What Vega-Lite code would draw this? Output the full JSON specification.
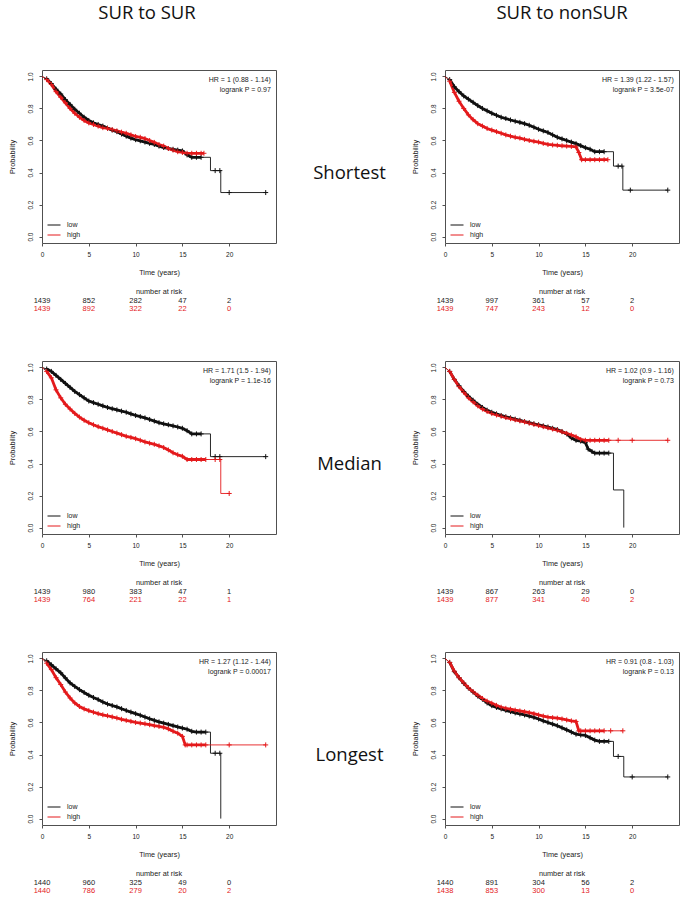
{
"$schema":"https://vega.github.io/schema/vega-lite/v6.json",
"background":"white",
"padding":{"left":8,"top":3,"right":5,"bottom":5},
"autosize":"pad",
"datasets":{
"km":[
{"p":1,"g":"low","t":0,"s":1,"c":0},{"p":1,"g":"low","t":0.5,"s":0.985,"c":1},{"p":1,"g":"low","t":1,"s":0.955,"c":1},{"p":1,"g":"low","t":1.5,"s":0.92,"c":1},{"p":1,"g":"low","t":2,"s":0.89,"c":1},{"p":1,"g":"low","t":2.5,"s":0.855,"c":1},{"p":1,"g":"low","t":3,"s":0.825,"c":1},{"p":1,"g":"low","t":3.5,"s":0.795,"c":1},{"p":1,"g":"low","t":4,"s":0.77,"c":1},{"p":1,"g":"low","t":4.5,"s":0.745,"c":1},{"p":1,"g":"low","t":5,"s":0.725,"c":1},{"p":1,"g":"low","t":5.5,"s":0.71,"c":1},{"p":1,"g":"low","t":6,"s":0.7,"c":1},{"p":1,"g":"low","t":6.5,"s":0.69,"c":1},{"p":1,"g":"low","t":7,"s":0.677,"c":1},{"p":1,"g":"low","t":7.5,"s":0.665,"c":1},{"p":1,"g":"low","t":8,"s":0.655,"c":1},{"p":1,"g":"low","t":8.5,"s":0.64,"c":1},{"p":1,"g":"low","t":9,"s":0.627,"c":1},{"p":1,"g":"low","t":9.5,"s":0.615,"c":1},{"p":1,"g":"low","t":10,"s":0.605,"c":1},{"p":1,"g":"low","t":10.5,"s":0.598,"c":1},{"p":1,"g":"low","t":11,"s":0.59,"c":1},{"p":1,"g":"low","t":11.5,"s":0.582,"c":1},{"p":1,"g":"low","t":12,"s":0.575,"c":1},{"p":1,"g":"low","t":12.5,"s":0.565,"c":1},{"p":1,"g":"low","t":13,"s":0.556,"c":1},{"p":1,"g":"low","t":13.5,"s":0.55,"c":1},{"p":1,"g":"low","t":14,"s":0.545,"c":1},{"p":1,"g":"low","t":14.5,"s":0.54,"c":1},{"p":1,"g":"low","t":15,"s":0.535,"c":1},{"p":1,"g":"low","t":15.5,"s":0.51,"c":1},{"p":1,"g":"low","t":16,"s":0.495,"c":1},{"p":1,"g":"low","t":16.5,"s":0.495,"c":1},{"p":1,"g":"low","t":17,"s":0.495,"c":1},{"p":1,"g":"low","t":18,"s":0.495,"c":0},{"p":1,"g":"low","t":18,"s":0.412,"c":0},{"p":1,"g":"low","t":18.5,"s":0.412,"c":2},{"p":1,"g":"low","t":19,"s":0.412,"c":2},{"p":1,"g":"low","t":19.1,"s":0.412,"c":0},{"p":1,"g":"low","t":19.1,"s":0.275,"c":0},{"p":1,"g":"low","t":20,"s":0.275,"c":2},{"p":1,"g":"low","t":23.9,"s":0.275,"c":2},
{"p":1,"g":"high","t":0,"s":1,"c":0},{"p":1,"g":"high","t":0.5,"s":0.98,"c":1},{"p":1,"g":"high","t":1,"s":0.95,"c":1},{"p":1,"g":"high","t":1.5,"s":0.905,"c":1},{"p":1,"g":"high","t":2,"s":0.87,"c":1},{"p":1,"g":"high","t":2.5,"s":0.835,"c":1},{"p":1,"g":"high","t":3,"s":0.8,"c":1},{"p":1,"g":"high","t":3.5,"s":0.77,"c":1},{"p":1,"g":"high","t":4,"s":0.745,"c":1},{"p":1,"g":"high","t":4.5,"s":0.725,"c":1},{"p":1,"g":"high","t":5,"s":0.71,"c":1},{"p":1,"g":"high","t":5.5,"s":0.7,"c":1},{"p":1,"g":"high","t":6,"s":0.69,"c":1},{"p":1,"g":"high","t":6.5,"s":0.68,"c":1},{"p":1,"g":"high","t":7,"s":0.675,"c":1},{"p":1,"g":"high","t":7.5,"s":0.668,"c":1},{"p":1,"g":"high","t":8,"s":0.66,"c":1},{"p":1,"g":"high","t":8.5,"s":0.652,"c":1},{"p":1,"g":"high","t":9,"s":0.645,"c":1},{"p":1,"g":"high","t":9.5,"s":0.635,"c":1},{"p":1,"g":"high","t":10,"s":0.625,"c":1},{"p":1,"g":"high","t":10.5,"s":0.62,"c":1},{"p":1,"g":"high","t":11,"s":0.612,"c":1},{"p":1,"g":"high","t":11.5,"s":0.6,"c":1},{"p":1,"g":"high","t":12,"s":0.588,"c":1},{"p":1,"g":"high","t":12.5,"s":0.575,"c":1},{"p":1,"g":"high","t":13,"s":0.565,"c":1},{"p":1,"g":"high","t":13.5,"s":0.55,"c":1},{"p":1,"g":"high","t":14,"s":0.54,"c":1},{"p":1,"g":"high","t":14.5,"s":0.53,"c":1},{"p":1,"g":"high","t":15,"s":0.525,"c":1},{"p":1,"g":"high","t":15.5,"s":0.52,"c":1},{"p":1,"g":"high","t":16,"s":0.52,"c":1},{"p":1,"g":"high","t":16.5,"s":0.52,"c":1},{"p":1,"g":"high","t":17,"s":0.52,"c":1},{"p":1,"g":"high","t":17.3,"s":0.52,"c":1},
{"p":2,"g":"low","t":0,"s":1,"c":0},{"p":2,"g":"low","t":0.5,"s":0.98,"c":1},{"p":2,"g":"low","t":1,"s":0.935,"c":1},{"p":2,"g":"low","t":1.5,"s":0.905,"c":1},{"p":2,"g":"low","t":2,"s":0.878,"c":1},{"p":2,"g":"low","t":2.5,"s":0.858,"c":1},{"p":2,"g":"low","t":3,"s":0.838,"c":1},{"p":2,"g":"low","t":3.5,"s":0.818,"c":1},{"p":2,"g":"low","t":4,"s":0.8,"c":1},{"p":2,"g":"low","t":4.5,"s":0.785,"c":1},{"p":2,"g":"low","t":5,"s":0.77,"c":1},{"p":2,"g":"low","t":5.5,"s":0.757,"c":1},{"p":2,"g":"low","t":6,"s":0.745,"c":1},{"p":2,"g":"low","t":6.5,"s":0.737,"c":1},{"p":2,"g":"low","t":7,"s":0.728,"c":1},{"p":2,"g":"low","t":7.5,"s":0.72,"c":1},{"p":2,"g":"low","t":8,"s":0.713,"c":1},{"p":2,"g":"low","t":8.5,"s":0.705,"c":1},{"p":2,"g":"low","t":9,"s":0.695,"c":1},{"p":2,"g":"low","t":9.5,"s":0.683,"c":1},{"p":2,"g":"low","t":10,"s":0.67,"c":1},{"p":2,"g":"low","t":10.5,"s":0.66,"c":1},{"p":2,"g":"low","t":11,"s":0.65,"c":1},{"p":2,"g":"low","t":11.5,"s":0.635,"c":1},{"p":2,"g":"low","t":12,"s":0.62,"c":1},{"p":2,"g":"low","t":12.5,"s":0.61,"c":1},{"p":2,"g":"low","t":13,"s":0.6,"c":1},{"p":2,"g":"low","t":13.5,"s":0.59,"c":1},{"p":2,"g":"low","t":14,"s":0.58,"c":1},{"p":2,"g":"low","t":14.5,"s":0.568,"c":1},{"p":2,"g":"low","t":15,"s":0.555,"c":1},{"p":2,"g":"low","t":15.5,"s":0.545,"c":1},{"p":2,"g":"low","t":16,"s":0.53,"c":1},{"p":2,"g":"low","t":16.5,"s":0.53,"c":1},{"p":2,"g":"low","t":17,"s":0.53,"c":1},{"p":2,"g":"low","t":18,"s":0.53,"c":0},{"p":2,"g":"low","t":18,"s":0.44,"c":0},{"p":2,"g":"low","t":18.5,"s":0.44,"c":2},{"p":2,"g":"low","t":18.9,"s":0.44,"c":2},{"p":2,"g":"low","t":19,"s":0.44,"c":0},{"p":2,"g":"low","t":19,"s":0.29,"c":0},{"p":2,"g":"low","t":19.8,"s":0.29,"c":2},{"p":2,"g":"low","t":23.8,"s":0.29,"c":2},
{"p":2,"g":"high","t":0,"s":1,"c":0},{"p":2,"g":"high","t":0.5,"s":0.97,"c":1},{"p":2,"g":"high","t":1,"s":0.9,"c":1},{"p":2,"g":"high","t":1.5,"s":0.845,"c":1},{"p":2,"g":"high","t":2,"s":0.8,"c":1},{"p":2,"g":"high","t":2.5,"s":0.76,"c":1},{"p":2,"g":"high","t":3,"s":0.73,"c":1},{"p":2,"g":"high","t":3.5,"s":0.705,"c":1},{"p":2,"g":"high","t":4,"s":0.69,"c":1},{"p":2,"g":"high","t":4.5,"s":0.675,"c":1},{"p":2,"g":"high","t":5,"s":0.665,"c":1},{"p":2,"g":"high","t":5.5,"s":0.655,"c":1},{"p":2,"g":"high","t":6,"s":0.645,"c":1},{"p":2,"g":"high","t":6.5,"s":0.635,"c":1},{"p":2,"g":"high","t":7,"s":0.627,"c":1},{"p":2,"g":"high","t":7.5,"s":0.62,"c":1},{"p":2,"g":"high","t":8,"s":0.615,"c":1},{"p":2,"g":"high","t":8.5,"s":0.607,"c":1},{"p":2,"g":"high","t":9,"s":0.6,"c":1},{"p":2,"g":"high","t":9.5,"s":0.595,"c":1},{"p":2,"g":"high","t":10,"s":0.59,"c":1},{"p":2,"g":"high","t":10.5,"s":0.582,"c":1},{"p":2,"g":"high","t":11,"s":0.575,"c":1},{"p":2,"g":"high","t":11.5,"s":0.572,"c":1},{"p":2,"g":"high","t":12,"s":0.57,"c":1},{"p":2,"g":"high","t":12.5,"s":0.567,"c":1},{"p":2,"g":"high","t":13,"s":0.565,"c":1},{"p":2,"g":"high","t":13.5,"s":0.563,"c":1},{"p":2,"g":"high","t":14,"s":0.56,"c":1},{"p":2,"g":"high","t":14.3,"s":0.525,"c":1},{"p":2,"g":"high","t":14.6,"s":0.48,"c":1},{"p":2,"g":"high","t":15,"s":0.48,"c":1},{"p":2,"g":"high","t":15.5,"s":0.48,"c":1},{"p":2,"g":"high","t":16,"s":0.48,"c":1},{"p":2,"g":"high","t":16.5,"s":0.48,"c":1},{"p":2,"g":"high","t":17,"s":0.48,"c":1},{"p":2,"g":"high","t":17.4,"s":0.48,"c":1},
{"p":3,"g":"low","t":0,"s":1,"c":0},{"p":3,"g":"low","t":0.5,"s":0.99,"c":1},{"p":3,"g":"low","t":1,"s":0.975,"c":1},{"p":3,"g":"low","t":1.5,"s":0.95,"c":1},{"p":3,"g":"low","t":2,"s":0.925,"c":1},{"p":3,"g":"low","t":2.5,"s":0.9,"c":1},{"p":3,"g":"low","t":3,"s":0.875,"c":1},{"p":3,"g":"low","t":3.5,"s":0.85,"c":1},{"p":3,"g":"low","t":4,"s":0.83,"c":1},{"p":3,"g":"low","t":4.5,"s":0.81,"c":1},{"p":3,"g":"low","t":5,"s":0.79,"c":1},{"p":3,"g":"low","t":5.5,"s":0.78,"c":1},{"p":3,"g":"low","t":6,"s":0.77,"c":1},{"p":3,"g":"low","t":6.5,"s":0.76,"c":1},{"p":3,"g":"low","t":7,"s":0.75,"c":1},{"p":3,"g":"low","t":7.5,"s":0.742,"c":1},{"p":3,"g":"low","t":8,"s":0.735,"c":1},{"p":3,"g":"low","t":8.5,"s":0.727,"c":1},{"p":3,"g":"low","t":9,"s":0.72,"c":1},{"p":3,"g":"low","t":9.5,"s":0.71,"c":1},{"p":3,"g":"low","t":10,"s":0.7,"c":1},{"p":3,"g":"low","t":10.5,"s":0.693,"c":1},{"p":3,"g":"low","t":11,"s":0.685,"c":1},{"p":3,"g":"low","t":11.5,"s":0.675,"c":1},{"p":3,"g":"low","t":12,"s":0.665,"c":1},{"p":3,"g":"low","t":12.5,"s":0.655,"c":1},{"p":3,"g":"low","t":13,"s":0.648,"c":1},{"p":3,"g":"low","t":13.5,"s":0.642,"c":1},{"p":3,"g":"low","t":14,"s":0.635,"c":1},{"p":3,"g":"low","t":14.5,"s":0.628,"c":1},{"p":3,"g":"low","t":15,"s":0.62,"c":1},{"p":3,"g":"low","t":15.5,"s":0.605,"c":1},{"p":3,"g":"low","t":16,"s":0.585,"c":1},{"p":3,"g":"low","t":16.5,"s":0.585,"c":1},{"p":3,"g":"low","t":17,"s":0.585,"c":1},{"p":3,"g":"low","t":18,"s":0.585,"c":0},{"p":3,"g":"low","t":18,"s":0.443,"c":0},{"p":3,"g":"low","t":18.5,"s":0.443,"c":2},{"p":3,"g":"low","t":19,"s":0.443,"c":2},{"p":3,"g":"low","t":23.9,"s":0.443,"c":2},
{"p":3,"g":"high","t":0,"s":1,"c":0},{"p":3,"g":"high","t":0.5,"s":0.975,"c":1},{"p":3,"g":"high","t":1,"s":0.935,"c":1},{"p":3,"g":"high","t":1.5,"s":0.86,"c":1},{"p":3,"g":"high","t":2,"s":0.81,"c":1},{"p":3,"g":"high","t":2.5,"s":0.77,"c":1},{"p":3,"g":"high","t":3,"s":0.74,"c":1},{"p":3,"g":"high","t":3.5,"s":0.713,"c":1},{"p":3,"g":"high","t":4,"s":0.69,"c":1},{"p":3,"g":"high","t":4.5,"s":0.67,"c":1},{"p":3,"g":"high","t":5,"s":0.655,"c":1},{"p":3,"g":"high","t":5.5,"s":0.642,"c":1},{"p":3,"g":"high","t":6,"s":0.63,"c":1},{"p":3,"g":"high","t":6.5,"s":0.62,"c":1},{"p":3,"g":"high","t":7,"s":0.61,"c":1},{"p":3,"g":"high","t":7.5,"s":0.6,"c":1},{"p":3,"g":"high","t":8,"s":0.59,"c":1},{"p":3,"g":"high","t":8.5,"s":0.58,"c":1},{"p":3,"g":"high","t":9,"s":0.57,"c":1},{"p":3,"g":"high","t":9.5,"s":0.563,"c":1},{"p":3,"g":"high","t":10,"s":0.555,"c":1},{"p":3,"g":"high","t":10.5,"s":0.545,"c":1},{"p":3,"g":"high","t":11,"s":0.535,"c":1},{"p":3,"g":"high","t":11.5,"s":0.527,"c":1},{"p":3,"g":"high","t":12,"s":0.52,"c":1},{"p":3,"g":"high","t":12.5,"s":0.51,"c":1},{"p":3,"g":"high","t":13,"s":0.5,"c":1},{"p":3,"g":"high","t":13.5,"s":0.485,"c":1},{"p":3,"g":"high","t":14,"s":0.467,"c":1},{"p":3,"g":"high","t":14.5,"s":0.455,"c":1},{"p":3,"g":"high","t":15,"s":0.445,"c":1},{"p":3,"g":"high","t":15.5,"s":0.425,"c":1},{"p":3,"g":"high","t":16,"s":0.425,"c":1},{"p":3,"g":"high","t":16.5,"s":0.425,"c":1},{"p":3,"g":"high","t":17,"s":0.425,"c":1},{"p":3,"g":"high","t":17.5,"s":0.425,"c":1},{"p":3,"g":"high","t":18.5,"s":0.425,"c":2},{"p":3,"g":"high","t":19,"s":0.425,"c":2},{"p":3,"g":"high","t":19.1,"s":0.425,"c":0},{"p":3,"g":"high","t":19.1,"s":0.213,"c":0},{"p":3,"g":"high","t":20,"s":0.213,"c":2},
{"p":4,"g":"low","t":0,"s":1,"c":0},{"p":4,"g":"low","t":0.5,"s":0.975,"c":1},{"p":4,"g":"low","t":1,"s":0.925,"c":1},{"p":4,"g":"low","t":1.5,"s":0.885,"c":1},{"p":4,"g":"low","t":2,"s":0.85,"c":1},{"p":4,"g":"low","t":2.5,"s":0.82,"c":1},{"p":4,"g":"low","t":3,"s":0.795,"c":1},{"p":4,"g":"low","t":3.5,"s":0.77,"c":1},{"p":4,"g":"low","t":4,"s":0.75,"c":1},{"p":4,"g":"low","t":4.5,"s":0.733,"c":1},{"p":4,"g":"low","t":5,"s":0.72,"c":1},{"p":4,"g":"low","t":5.5,"s":0.71,"c":1},{"p":4,"g":"low","t":6,"s":0.7,"c":1},{"p":4,"g":"low","t":6.5,"s":0.692,"c":1},{"p":4,"g":"low","t":7,"s":0.685,"c":1},{"p":4,"g":"low","t":7.5,"s":0.677,"c":1},{"p":4,"g":"low","t":8,"s":0.67,"c":1},{"p":4,"g":"low","t":8.5,"s":0.662,"c":1},{"p":4,"g":"low","t":9,"s":0.655,"c":1},{"p":4,"g":"low","t":9.5,"s":0.648,"c":1},{"p":4,"g":"low","t":10,"s":0.642,"c":1},{"p":4,"g":"low","t":10.5,"s":0.635,"c":1},{"p":4,"g":"low","t":11,"s":0.628,"c":1},{"p":4,"g":"low","t":11.5,"s":0.62,"c":1},{"p":4,"g":"low","t":12,"s":0.612,"c":1},{"p":4,"g":"low","t":12.5,"s":0.6,"c":1},{"p":4,"g":"low","t":13,"s":0.585,"c":1},{"p":4,"g":"low","t":13.5,"s":0.56,"c":1},{"p":4,"g":"low","t":14,"s":0.545,"c":1},{"p":4,"g":"low","t":14.5,"s":0.54,"c":1},{"p":4,"g":"low","t":15,"s":0.53,"c":1},{"p":4,"g":"low","t":15.3,"s":0.49,"c":1},{"p":4,"g":"low","t":15.7,"s":0.475,"c":1},{"p":4,"g":"low","t":16,"s":0.465,"c":1},{"p":4,"g":"low","t":16.5,"s":0.465,"c":1},{"p":4,"g":"low","t":17,"s":0.465,"c":1},{"p":4,"g":"low","t":17.5,"s":0.465,"c":1},{"p":4,"g":"low","t":18,"s":0.465,"c":0},{"p":4,"g":"low","t":18,"s":0.235,"c":0},{"p":4,"g":"low","t":19.1,"s":0.235,"c":0},{"p":4,"g":"low","t":19.1,"s":0,"c":0},
{"p":4,"g":"high","t":0,"s":1,"c":0},{"p":4,"g":"high","t":0.5,"s":0.975,"c":1},{"p":4,"g":"high","t":1,"s":0.925,"c":1},{"p":4,"g":"high","t":1.5,"s":0.88,"c":1},{"p":4,"g":"high","t":2,"s":0.845,"c":1},{"p":4,"g":"high","t":2.5,"s":0.81,"c":1},{"p":4,"g":"high","t":3,"s":0.785,"c":1},{"p":4,"g":"high","t":3.5,"s":0.76,"c":1},{"p":4,"g":"high","t":4,"s":0.74,"c":1},{"p":4,"g":"high","t":4.5,"s":0.725,"c":1},{"p":4,"g":"high","t":5,"s":0.712,"c":1},{"p":4,"g":"high","t":5.5,"s":0.703,"c":1},{"p":4,"g":"high","t":6,"s":0.695,"c":1},{"p":4,"g":"high","t":6.5,"s":0.687,"c":1},{"p":4,"g":"high","t":7,"s":0.68,"c":1},{"p":4,"g":"high","t":7.5,"s":0.673,"c":1},{"p":4,"g":"high","t":8,"s":0.666,"c":1},{"p":4,"g":"high","t":8.5,"s":0.66,"c":1},{"p":4,"g":"high","t":9,"s":0.652,"c":1},{"p":4,"g":"high","t":9.5,"s":0.645,"c":1},{"p":4,"g":"high","t":10,"s":0.638,"c":1},{"p":4,"g":"high","t":10.5,"s":0.63,"c":1},{"p":4,"g":"high","t":11,"s":0.623,"c":1},{"p":4,"g":"high","t":11.5,"s":0.615,"c":1},{"p":4,"g":"high","t":12,"s":0.608,"c":1},{"p":4,"g":"high","t":12.5,"s":0.598,"c":1},{"p":4,"g":"high","t":13,"s":0.588,"c":1},{"p":4,"g":"high","t":13.5,"s":0.578,"c":1},{"p":4,"g":"high","t":14,"s":0.567,"c":1},{"p":4,"g":"high","t":14.5,"s":0.55,"c":1},{"p":4,"g":"high","t":15,"s":0.545,"c":1},{"p":4,"g":"high","t":15.5,"s":0.545,"c":1},{"p":4,"g":"high","t":16,"s":0.545,"c":1},{"p":4,"g":"high","t":16.5,"s":0.545,"c":1},{"p":4,"g":"high","t":17,"s":0.545,"c":1},{"p":4,"g":"high","t":17.5,"s":0.545,"c":1},{"p":4,"g":"high","t":18.5,"s":0.545,"c":2},{"p":4,"g":"high","t":20,"s":0.545,"c":2},{"p":4,"g":"high","t":23.8,"s":0.545,"c":2},
{"p":5,"g":"low","t":0,"s":1,"c":0},{"p":5,"g":"low","t":0.5,"s":0.985,"c":1},{"p":5,"g":"low","t":1,"s":0.96,"c":1},{"p":5,"g":"low","t":1.5,"s":0.935,"c":1},{"p":5,"g":"low","t":2,"s":0.91,"c":1},{"p":5,"g":"low","t":2.5,"s":0.878,"c":1},{"p":5,"g":"low","t":3,"s":0.847,"c":1},{"p":5,"g":"low","t":3.5,"s":0.825,"c":1},{"p":5,"g":"low","t":4,"s":0.805,"c":1},{"p":5,"g":"low","t":4.5,"s":0.787,"c":1},{"p":5,"g":"low","t":5,"s":0.77,"c":1},{"p":5,"g":"low","t":5.5,"s":0.756,"c":1},{"p":5,"g":"low","t":6,"s":0.743,"c":1},{"p":5,"g":"low","t":6.5,"s":0.728,"c":1},{"p":5,"g":"low","t":7,"s":0.715,"c":1},{"p":5,"g":"low","t":7.5,"s":0.706,"c":1},{"p":5,"g":"low","t":8,"s":0.697,"c":1},{"p":5,"g":"low","t":8.5,"s":0.686,"c":1},{"p":5,"g":"low","t":9,"s":0.675,"c":1},{"p":5,"g":"low","t":9.5,"s":0.665,"c":1},{"p":5,"g":"low","t":10,"s":0.655,"c":1},{"p":5,"g":"low","t":10.5,"s":0.645,"c":1},{"p":5,"g":"low","t":11,"s":0.634,"c":1},{"p":5,"g":"low","t":11.5,"s":0.623,"c":1},{"p":5,"g":"low","t":12,"s":0.613,"c":1},{"p":5,"g":"low","t":12.5,"s":0.604,"c":1},{"p":5,"g":"low","t":13,"s":0.596,"c":1},{"p":5,"g":"low","t":13.5,"s":0.588,"c":1},{"p":5,"g":"low","t":14,"s":0.58,"c":1},{"p":5,"g":"low","t":14.5,"s":0.572,"c":1},{"p":5,"g":"low","t":15,"s":0.565,"c":1},{"p":5,"g":"low","t":15.5,"s":0.558,"c":1},{"p":5,"g":"low","t":16,"s":0.545,"c":1},{"p":5,"g":"low","t":16.5,"s":0.54,"c":1},{"p":5,"g":"low","t":17,"s":0.54,"c":1},{"p":5,"g":"low","t":17.5,"s":0.54,"c":1},{"p":5,"g":"low","t":18,"s":0.54,"c":0},{"p":5,"g":"low","t":18,"s":0.408,"c":0},{"p":5,"g":"low","t":18.5,"s":0.408,"c":2},{"p":5,"g":"low","t":19,"s":0.408,"c":2},{"p":5,"g":"low","t":19.1,"s":0.408,"c":0},{"p":5,"g":"low","t":19.1,"s":0,"c":0},
{"p":5,"g":"high","t":0,"s":1,"c":0},{"p":5,"g":"high","t":0.5,"s":0.97,"c":1},{"p":5,"g":"high","t":1,"s":0.93,"c":1},{"p":5,"g":"high","t":1.5,"s":0.88,"c":1},{"p":5,"g":"high","t":2,"s":0.837,"c":1},{"p":5,"g":"high","t":2.5,"s":0.79,"c":1},{"p":5,"g":"high","t":3,"s":0.753,"c":1},{"p":5,"g":"high","t":3.5,"s":0.722,"c":1},{"p":5,"g":"high","t":4,"s":0.7,"c":1},{"p":5,"g":"high","t":4.5,"s":0.685,"c":1},{"p":5,"g":"high","t":5,"s":0.674,"c":1},{"p":5,"g":"high","t":5.5,"s":0.664,"c":1},{"p":5,"g":"high","t":6,"s":0.655,"c":1},{"p":5,"g":"high","t":6.5,"s":0.648,"c":1},{"p":5,"g":"high","t":7,"s":0.642,"c":1},{"p":5,"g":"high","t":7.5,"s":0.635,"c":1},{"p":5,"g":"high","t":8,"s":0.628,"c":1},{"p":5,"g":"high","t":8.5,"s":0.62,"c":1},{"p":5,"g":"high","t":9,"s":0.613,"c":1},{"p":5,"g":"high","t":9.5,"s":0.607,"c":1},{"p":5,"g":"high","t":10,"s":0.6,"c":1},{"p":5,"g":"high","t":10.5,"s":0.596,"c":1},{"p":5,"g":"high","t":11,"s":0.592,"c":1},{"p":5,"g":"high","t":11.5,"s":0.586,"c":1},{"p":5,"g":"high","t":12,"s":0.58,"c":1},{"p":5,"g":"high","t":12.5,"s":0.575,"c":1},{"p":5,"g":"high","t":13,"s":0.57,"c":1},{"p":5,"g":"high","t":13.5,"s":0.56,"c":1},{"p":5,"g":"high","t":14,"s":0.545,"c":1},{"p":5,"g":"high","t":14.5,"s":0.533,"c":1},{"p":5,"g":"high","t":15,"s":0.513,"c":1},{"p":5,"g":"high","t":15.3,"s":0.46,"c":1},{"p":5,"g":"high","t":15.5,"s":0.46,"c":1},{"p":5,"g":"high","t":16,"s":0.46,"c":1},{"p":5,"g":"high","t":16.5,"s":0.46,"c":1},{"p":5,"g":"high","t":17,"s":0.46,"c":1},{"p":5,"g":"high","t":17.5,"s":0.46,"c":1},{"p":5,"g":"high","t":20,"s":0.46,"c":2},{"p":5,"g":"high","t":23.9,"s":0.46,"c":2},
{"p":6,"g":"low","t":0,"s":1,"c":0},{"p":6,"g":"low","t":0.5,"s":0.975,"c":1},{"p":6,"g":"low","t":1,"s":0.917,"c":1},{"p":6,"g":"low","t":1.5,"s":0.88,"c":1},{"p":6,"g":"low","t":2,"s":0.845,"c":1},{"p":6,"g":"low","t":2.5,"s":0.815,"c":1},{"p":6,"g":"low","t":3,"s":0.79,"c":1},{"p":6,"g":"low","t":3.5,"s":0.765,"c":1},{"p":6,"g":"low","t":4,"s":0.745,"c":1},{"p":6,"g":"low","t":4.5,"s":0.722,"c":1},{"p":6,"g":"low","t":5,"s":0.705,"c":1},{"p":6,"g":"low","t":5.5,"s":0.694,"c":1},{"p":6,"g":"low","t":6,"s":0.685,"c":1},{"p":6,"g":"low","t":6.5,"s":0.676,"c":1},{"p":6,"g":"low","t":7,"s":0.668,"c":1},{"p":6,"g":"low","t":7.5,"s":0.66,"c":1},{"p":6,"g":"low","t":8,"s":0.653,"c":1},{"p":6,"g":"low","t":8.5,"s":0.647,"c":1},{"p":6,"g":"low","t":9,"s":0.64,"c":1},{"p":6,"g":"low","t":9.5,"s":0.632,"c":1},{"p":6,"g":"low","t":10,"s":0.622,"c":1},{"p":6,"g":"low","t":10.5,"s":0.61,"c":1},{"p":6,"g":"low","t":11,"s":0.6,"c":1},{"p":6,"g":"low","t":11.5,"s":0.59,"c":1},{"p":6,"g":"low","t":12,"s":0.58,"c":1},{"p":6,"g":"low","t":12.5,"s":0.567,"c":1},{"p":6,"g":"low","t":13,"s":0.554,"c":1},{"p":6,"g":"low","t":13.5,"s":0.54,"c":1},{"p":6,"g":"low","t":14,"s":0.527,"c":1},{"p":6,"g":"low","t":14.5,"s":0.522,"c":1},{"p":6,"g":"low","t":15,"s":0.519,"c":1},{"p":6,"g":"low","t":15.5,"s":0.505,"c":1},{"p":6,"g":"low","t":16,"s":0.49,"c":1},{"p":6,"g":"low","t":16.5,"s":0.482,"c":1},{"p":6,"g":"low","t":17,"s":0.482,"c":1},{"p":6,"g":"low","t":17.5,"s":0.482,"c":1},{"p":6,"g":"low","t":18,"s":0.482,"c":0},{"p":6,"g":"low","t":18,"s":0.388,"c":0},{"p":6,"g":"low","t":18.5,"s":0.388,"c":2},{"p":6,"g":"low","t":19.1,"s":0.388,"c":0},{"p":6,"g":"low","t":19.1,"s":0.26,"c":0},{"p":6,"g":"low","t":20,"s":0.26,"c":2},{"p":6,"g":"low","t":23.8,"s":0.26,"c":2},
{"p":6,"g":"high","t":0,"s":1,"c":0},{"p":6,"g":"high","t":0.5,"s":0.975,"c":1},{"p":6,"g":"high","t":1,"s":0.92,"c":1},{"p":6,"g":"high","t":1.5,"s":0.88,"c":1},{"p":6,"g":"high","t":2,"s":0.847,"c":1},{"p":6,"g":"high","t":2.5,"s":0.817,"c":1},{"p":6,"g":"high","t":3,"s":0.792,"c":1},{"p":6,"g":"high","t":3.5,"s":0.77,"c":1},{"p":6,"g":"high","t":4,"s":0.75,"c":1},{"p":6,"g":"high","t":4.5,"s":0.733,"c":1},{"p":6,"g":"high","t":5,"s":0.72,"c":1},{"p":6,"g":"high","t":5.5,"s":0.707,"c":1},{"p":6,"g":"high","t":6,"s":0.695,"c":1},{"p":6,"g":"high","t":6.5,"s":0.688,"c":1},{"p":6,"g":"high","t":7,"s":0.683,"c":1},{"p":6,"g":"high","t":7.5,"s":0.677,"c":1},{"p":6,"g":"high","t":8,"s":0.672,"c":1},{"p":6,"g":"high","t":8.5,"s":0.667,"c":1},{"p":6,"g":"high","t":9,"s":0.662,"c":1},{"p":6,"g":"high","t":9.5,"s":0.655,"c":1},{"p":6,"g":"high","t":10,"s":0.647,"c":1},{"p":6,"g":"high","t":10.5,"s":0.64,"c":1},{"p":6,"g":"high","t":11,"s":0.633,"c":1},{"p":6,"g":"high","t":11.5,"s":0.63,"c":1},{"p":6,"g":"high","t":12,"s":0.627,"c":1},{"p":6,"g":"high","t":12.5,"s":0.622,"c":1},{"p":6,"g":"high","t":13,"s":0.616,"c":1},{"p":6,"g":"high","t":13.5,"s":0.61,"c":1},{"p":6,"g":"high","t":14,"s":0.606,"c":1},{"p":6,"g":"high","t":14.3,"s":0.548,"c":1},{"p":6,"g":"high","t":14.5,"s":0.548,"c":1},{"p":6,"g":"high","t":15,"s":0.548,"c":1},{"p":6,"g":"high","t":15.5,"s":0.548,"c":1},{"p":6,"g":"high","t":16,"s":0.548,"c":1},{"p":6,"g":"high","t":16.5,"s":0.548,"c":1},{"p":6,"g":"high","t":17,"s":0.548,"c":1},{"p":6,"g":"high","t":17.7,"s":0.548,"c":2},{"p":6,"g":"high","t":19,"s":0.548,"c":2}
],
"stats":[
{"p":1,"hr":"HR = 1 (0.88 - 1.14)","lr":"logrank P = 0.97"},
{"p":2,"hr":"HR = 1.39 (1.22 - 1.57)","lr":"logrank P = 3.5e-07"},
{"p":3,"hr":"HR = 1.71 (1.5 - 1.94)","lr":"logrank P = 1.1e-16"},
{"p":4,"hr":"HR = 1.02 (0.9 - 1.16)","lr":"logrank P = 0.73"},
{"p":5,"hr":"HR = 1.27 (1.12 - 1.44)","lr":"logrank P = 0.00017"},
{"p":6,"hr":"HR = 0.91 (0.8 - 1.03)","lr":"logrank P = 0.13"}
],
"risk":[
{"p":1,"g":"low","t":0,"n":1439},{"p":1,"g":"low","t":5,"n":852},{"p":1,"g":"low","t":10,"n":282},{"p":1,"g":"low","t":15,"n":47},{"p":1,"g":"low","t":20,"n":2},
{"p":1,"g":"high","t":0,"n":1439},{"p":1,"g":"high","t":5,"n":892},{"p":1,"g":"high","t":10,"n":322},{"p":1,"g":"high","t":15,"n":22},{"p":1,"g":"high","t":20,"n":0},
{"p":2,"g":"low","t":0,"n":1439},{"p":2,"g":"low","t":5,"n":997},{"p":2,"g":"low","t":10,"n":361},{"p":2,"g":"low","t":15,"n":57},{"p":2,"g":"low","t":20,"n":2},
{"p":2,"g":"high","t":0,"n":1439},{"p":2,"g":"high","t":5,"n":747},{"p":2,"g":"high","t":10,"n":243},{"p":2,"g":"high","t":15,"n":12},{"p":2,"g":"high","t":20,"n":0},
{"p":3,"g":"low","t":0,"n":1439},{"p":3,"g":"low","t":5,"n":980},{"p":3,"g":"low","t":10,"n":383},{"p":3,"g":"low","t":15,"n":47},{"p":3,"g":"low","t":20,"n":1},
{"p":3,"g":"high","t":0,"n":1439},{"p":3,"g":"high","t":5,"n":764},{"p":3,"g":"high","t":10,"n":221},{"p":3,"g":"high","t":15,"n":22},{"p":3,"g":"high","t":20,"n":1},
{"p":4,"g":"low","t":0,"n":1439},{"p":4,"g":"low","t":5,"n":867},{"p":4,"g":"low","t":10,"n":263},{"p":4,"g":"low","t":15,"n":29},{"p":4,"g":"low","t":20,"n":0},
{"p":4,"g":"high","t":0,"n":1439},{"p":4,"g":"high","t":5,"n":877},{"p":4,"g":"high","t":10,"n":341},{"p":4,"g":"high","t":15,"n":40},{"p":4,"g":"high","t":20,"n":2},
{"p":5,"g":"low","t":0,"n":1440},{"p":5,"g":"low","t":5,"n":960},{"p":5,"g":"low","t":10,"n":325},{"p":5,"g":"low","t":15,"n":49},{"p":5,"g":"low","t":20,"n":0},
{"p":5,"g":"high","t":0,"n":1440},{"p":5,"g":"high","t":5,"n":786},{"p":5,"g":"high","t":10,"n":279},{"p":5,"g":"high","t":15,"n":20},{"p":5,"g":"high","t":20,"n":2},
{"p":6,"g":"low","t":0,"n":1440},{"p":6,"g":"low","t":5,"n":891},{"p":6,"g":"low","t":10,"n":304},{"p":6,"g":"low","t":15,"n":56},{"p":6,"g":"low","t":20,"n":2},
{"p":6,"g":"high","t":0,"n":1438},{"p":6,"g":"high","t":5,"n":853},{"p":6,"g":"high","t":10,"n":300},{"p":6,"g":"high","t":15,"n":13},{"p":6,"g":"high","t":20,"n":0}
]
},
"columns":3,
"spacing":{"row":50,"column":0},
"bounds":"flush",
"resolve":{"scale":{"color":"independent"},"legend":{"color":"independent"}},
"concat":[
  {"width":234,"height":173,
   "title":{"text":"SUR to SUR","font":"Open Sans","fontSize":18.5,"color":"#111","offset":48,"dx":-12},
   "layer":[
    {"data":{"name":"km"},"transform":[{"filter":"datum.p==1"}],"mark":{"type":"line","strokeWidth":0.9},"encoding":{"x":{"field":"t","type":"quantitative","scale":{"domain":[0,25],"nice":false,"zero":false},"axis":{"values":[0,5,10,15,20],"title":"Time (years)","labelOverlap":false}},"y":{"field":"s","type":"quantitative","scale":{"domain":[-0.04,1.04],"nice":false,"zero":false},"axis":{"values":[0,0.2,0.4,0.6,0.8,1],"format":".1f","title":"Probability","labelOverlap":false}},"color":{"field":"g","type":"nominal","scale":{"domain":["low","high"],"range":["#111111","#e41a1c"]},"legend":{"title":null,"symbolType":"stroke"}},"order":[{"field":"s","sort":"descending"},{"field":"t","sort":"ascending"}]}},
    {"data":{"name":"km"},"transform":[{"filter":"datum.p==1 && datum.c==1"}],"mark":{"type":"line","strokeWidth":2.8},"encoding":{"x":{"field":"t","type":"quantitative","scale":{"domain":[0,25],"nice":false,"zero":false},"axis":{"values":[0,5,10,15,20],"title":"Time (years)","labelOverlap":false}},"y":{"field":"s","type":"quantitative","scale":{"domain":[-0.04,1.04],"nice":false,"zero":false},"axis":{"values":[0,0.2,0.4,0.6,0.8,1],"format":".1f","title":"Probability","labelOverlap":false}},"color":{"field":"g","type":"nominal"},"order":[{"field":"s","sort":"descending"},{"field":"t","sort":"ascending"}]}},
    {"data":{"name":"km"},"transform":[{"filter":"datum.p==1 && datum.c>0"}],"mark":{"type":"point","shape":"M-1,0H1M0,-1V1","size":25,"strokeWidth":1,"filled":false,"opacity":1},"encoding":{"x":{"field":"t","type":"quantitative","scale":{"domain":[0,25],"nice":false,"zero":false},"axis":{"values":[0,5,10,15,20],"title":"Time (years)","labelOverlap":false}},"y":{"field":"s","type":"quantitative","scale":{"domain":[-0.04,1.04],"nice":false,"zero":false},"axis":{"values":[0,0.2,0.4,0.6,0.8,1],"format":".1f","title":"Probability","labelOverlap":false}},"color":{"field":"g","type":"nominal"}}},
    {"data":{"name":"stats"},"transform":[{"filter":"datum.p==1"}],"mark":{"type":"text","align":"right","baseline":"middle","font":"Liberation Sans","fontSize":7,"color":"#222"},"encoding":{"x":{"datum":24.45,"type":"quantitative","scale":{"domain":[0,25],"nice":false,"zero":false},"axis":{"values":[0,5,10,15,20],"title":"Time (years)","labelOverlap":false}},"y":{"datum":0.978,"type":"quantitative","scale":{"domain":[-0.04,1.04],"nice":false,"zero":false},"axis":{"values":[0,0.2,0.4,0.6,0.8,1],"format":".1f","title":"Probability","labelOverlap":false}},"text":{"field":"hr","type":"nominal"}}},
    {"data":{"name":"stats"},"transform":[{"filter":"datum.p==1"}],"mark":{"type":"text","align":"right","baseline":"middle","font":"Liberation Sans","fontSize":7,"color":"#222"},"encoding":{"x":{"datum":24.45,"type":"quantitative","scale":{"domain":[0,25],"nice":false,"zero":false},"axis":{"values":[0,5,10,15,20],"title":"Time (years)","labelOverlap":false}},"y":{"datum":0.918,"type":"quantitative","scale":{"domain":[-0.04,1.04],"nice":false,"zero":false},"axis":{"values":[0,0.2,0.4,0.6,0.8,1],"format":".1f","title":"Probability","labelOverlap":false}},"text":{"field":"lr","type":"nominal"}}}
   ]},
  {"width":169,"height":173,"view":{"stroke":null},"data":{"values":[{"label":"Shortest"}]},"mark":{"type":"text","font":"Open Sans","fontSize":18.5,"color":"#111","dx":-11,"dy":16},"encoding":{"text":{"field":"label"}}},
  {"width":234,"height":173,
   "title":{"text":"SUR to nonSUR","font":"Open Sans","fontSize":18.5,"color":"#111","offset":48},
   "layer":[
    {"data":{"name":"km"},"transform":[{"filter":"datum.p==2"}],"mark":{"type":"line","strokeWidth":0.9},"encoding":{"x":{"field":"t","type":"quantitative","scale":{"domain":[0,25],"nice":false,"zero":false},"axis":{"values":[0,5,10,15,20],"title":"Time (years)","labelOverlap":false}},"y":{"field":"s","type":"quantitative","scale":{"domain":[-0.04,1.04],"nice":false,"zero":false},"axis":{"values":[0,0.2,0.4,0.6,0.8,1],"format":".1f","title":"Probability","labelOverlap":false}},"color":{"field":"g","type":"nominal","scale":{"domain":["low","high"],"range":["#111111","#e41a1c"]},"legend":{"title":null,"symbolType":"stroke"}},"order":[{"field":"s","sort":"descending"},{"field":"t","sort":"ascending"}]}},
    {"data":{"name":"km"},"transform":[{"filter":"datum.p==2 && datum.c==1"}],"mark":{"type":"line","strokeWidth":2.8},"encoding":{"x":{"field":"t","type":"quantitative","scale":{"domain":[0,25],"nice":false,"zero":false},"axis":{"values":[0,5,10,15,20],"title":"Time (years)","labelOverlap":false}},"y":{"field":"s","type":"quantitative","scale":{"domain":[-0.04,1.04],"nice":false,"zero":false},"axis":{"values":[0,0.2,0.4,0.6,0.8,1],"format":".1f","title":"Probability","labelOverlap":false}},"color":{"field":"g","type":"nominal"},"order":[{"field":"s","sort":"descending"},{"field":"t","sort":"ascending"}]}},
    {"data":{"name":"km"},"transform":[{"filter":"datum.p==2 && datum.c>0"}],"mark":{"type":"point","shape":"M-1,0H1M0,-1V1","size":25,"strokeWidth":1,"filled":false,"opacity":1},"encoding":{"x":{"field":"t","type":"quantitative","scale":{"domain":[0,25],"nice":false,"zero":false},"axis":{"values":[0,5,10,15,20],"title":"Time (years)","labelOverlap":false}},"y":{"field":"s","type":"quantitative","scale":{"domain":[-0.04,1.04],"nice":false,"zero":false},"axis":{"values":[0,0.2,0.4,0.6,0.8,1],"format":".1f","title":"Probability","labelOverlap":false}},"color":{"field":"g","type":"nominal"}}},
    {"data":{"name":"stats"},"transform":[{"filter":"datum.p==2"}],"mark":{"type":"text","align":"right","baseline":"middle","font":"Liberation Sans","fontSize":7,"color":"#222"},"encoding":{"x":{"datum":24.45,"type":"quantitative","scale":{"domain":[0,25],"nice":false,"zero":false},"axis":{"values":[0,5,10,15,20],"title":"Time (years)","labelOverlap":false}},"y":{"datum":0.978,"type":"quantitative","scale":{"domain":[-0.04,1.04],"nice":false,"zero":false},"axis":{"values":[0,0.2,0.4,0.6,0.8,1],"format":".1f","title":"Probability","labelOverlap":false}},"text":{"field":"hr","type":"nominal"}}},
    {"data":{"name":"stats"},"transform":[{"filter":"datum.p==2"}],"mark":{"type":"text","align":"right","baseline":"middle","font":"Liberation Sans","fontSize":7,"color":"#222"},"encoding":{"x":{"datum":24.45,"type":"quantitative","scale":{"domain":[0,25],"nice":false,"zero":false},"axis":{"values":[0,5,10,15,20],"title":"Time (years)","labelOverlap":false}},"y":{"datum":0.918,"type":"quantitative","scale":{"domain":[-0.04,1.04],"nice":false,"zero":false},"axis":{"values":[0,0.2,0.4,0.6,0.8,1],"format":".1f","title":"Probability","labelOverlap":false}},"text":{"field":"lr","type":"nominal"}}}
   ]},
  {"width":234,"height":17.5,"view":{"stroke":null},"data":{"name":"risk"},"transform":[{"filter":"datum.p==1"}],"title":{"text":"number at risk"},"mark":{"type":"text","font":"Liberation Sans","fontSize":7.5},"encoding":{"x":{"field":"t","type":"quantitative","scale":{"domain":[0,25],"nice":false},"axis":null},"y":{"field":"g","type":"nominal","scale":{"domain":["low","high"],"range":[8,16],"padding":0},"axis":null},"text":{"field":"n"},"color":{"condition":{"test":"datum.g=='high'","value":"#e41a1c"},"value":"#222"}}},
  {"width":169,"height":17.5,"view":{"stroke":null},"data":{"values":[{}]},"mark":{"type":"text","text":""}},
  {"width":234,"height":17.5,"view":{"stroke":null},"data":{"name":"risk"},"transform":[{"filter":"datum.p==2"}],"title":{"text":"number at risk"},"mark":{"type":"text","font":"Liberation Sans","fontSize":7.5},"encoding":{"x":{"field":"t","type":"quantitative","scale":{"domain":[0,25],"nice":false},"axis":null},"y":{"field":"g","type":"nominal","scale":{"domain":["low","high"],"range":[8,16],"padding":0},"axis":null},"text":{"field":"n"},"color":{"condition":{"test":"datum.g=='high'","value":"#e41a1c"},"value":"#222"}}},
  {"width":234,"height":173,
   "layer":[
    {"data":{"name":"km"},"transform":[{"filter":"datum.p==3"}],"mark":{"type":"line","strokeWidth":0.9},"encoding":{"x":{"field":"t","type":"quantitative","scale":{"domain":[0,25],"nice":false,"zero":false},"axis":{"values":[0,5,10,15,20],"title":"Time (years)","labelOverlap":false}},"y":{"field":"s","type":"quantitative","scale":{"domain":[-0.04,1.04],"nice":false,"zero":false},"axis":{"values":[0,0.2,0.4,0.6,0.8,1],"format":".1f","title":"Probability","labelOverlap":false}},"color":{"field":"g","type":"nominal","scale":{"domain":["low","high"],"range":["#111111","#e41a1c"]},"legend":{"title":null,"symbolType":"stroke"}},"order":[{"field":"s","sort":"descending"},{"field":"t","sort":"ascending"}]}},
    {"data":{"name":"km"},"transform":[{"filter":"datum.p==3 && datum.c==1"}],"mark":{"type":"line","strokeWidth":2.8},"encoding":{"x":{"field":"t","type":"quantitative","scale":{"domain":[0,25],"nice":false,"zero":false},"axis":{"values":[0,5,10,15,20],"title":"Time (years)","labelOverlap":false}},"y":{"field":"s","type":"quantitative","scale":{"domain":[-0.04,1.04],"nice":false,"zero":false},"axis":{"values":[0,0.2,0.4,0.6,0.8,1],"format":".1f","title":"Probability","labelOverlap":false}},"color":{"field":"g","type":"nominal"},"order":[{"field":"s","sort":"descending"},{"field":"t","sort":"ascending"}]}},
    {"data":{"name":"km"},"transform":[{"filter":"datum.p==3 && datum.c>0"}],"mark":{"type":"point","shape":"M-1,0H1M0,-1V1","size":25,"strokeWidth":1,"filled":false,"opacity":1},"encoding":{"x":{"field":"t","type":"quantitative","scale":{"domain":[0,25],"nice":false,"zero":false},"axis":{"values":[0,5,10,15,20],"title":"Time (years)","labelOverlap":false}},"y":{"field":"s","type":"quantitative","scale":{"domain":[-0.04,1.04],"nice":false,"zero":false},"axis":{"values":[0,0.2,0.4,0.6,0.8,1],"format":".1f","title":"Probability","labelOverlap":false}},"color":{"field":"g","type":"nominal"}}},
    {"data":{"name":"stats"},"transform":[{"filter":"datum.p==3"}],"mark":{"type":"text","align":"right","baseline":"middle","font":"Liberation Sans","fontSize":7,"color":"#222"},"encoding":{"x":{"datum":24.45,"type":"quantitative","scale":{"domain":[0,25],"nice":false,"zero":false},"axis":{"values":[0,5,10,15,20],"title":"Time (years)","labelOverlap":false}},"y":{"datum":0.978,"type":"quantitative","scale":{"domain":[-0.04,1.04],"nice":false,"zero":false},"axis":{"values":[0,0.2,0.4,0.6,0.8,1],"format":".1f","title":"Probability","labelOverlap":false}},"text":{"field":"hr","type":"nominal"}}},
    {"data":{"name":"stats"},"transform":[{"filter":"datum.p==3"}],"mark":{"type":"text","align":"right","baseline":"middle","font":"Liberation Sans","fontSize":7,"color":"#222"},"encoding":{"x":{"datum":24.45,"type":"quantitative","scale":{"domain":[0,25],"nice":false,"zero":false},"axis":{"values":[0,5,10,15,20],"title":"Time (years)","labelOverlap":false}},"y":{"datum":0.918,"type":"quantitative","scale":{"domain":[-0.04,1.04],"nice":false,"zero":false},"axis":{"values":[0,0.2,0.4,0.6,0.8,1],"format":".1f","title":"Probability","labelOverlap":false}},"text":{"field":"lr","type":"nominal"}}}
   ]},
  {"width":169,"height":173,"view":{"stroke":null},"data":{"values":[{"label":"Median"}]},"mark":{"type":"text","font":"Open Sans","fontSize":18.5,"color":"#111","dx":-11,"dy":16},"encoding":{"text":{"field":"label"}}},
  {"width":234,"height":173,
   "layer":[
    {"data":{"name":"km"},"transform":[{"filter":"datum.p==4"}],"mark":{"type":"line","strokeWidth":0.9},"encoding":{"x":{"field":"t","type":"quantitative","scale":{"domain":[0,25],"nice":false,"zero":false},"axis":{"values":[0,5,10,15,20],"title":"Time (years)","labelOverlap":false}},"y":{"field":"s","type":"quantitative","scale":{"domain":[-0.04,1.04],"nice":false,"zero":false},"axis":{"values":[0,0.2,0.4,0.6,0.8,1],"format":".1f","title":"Probability","labelOverlap":false}},"color":{"field":"g","type":"nominal","scale":{"domain":["low","high"],"range":["#111111","#e41a1c"]},"legend":{"title":null,"symbolType":"stroke"}},"order":[{"field":"s","sort":"descending"},{"field":"t","sort":"ascending"}]}},
    {"data":{"name":"km"},"transform":[{"filter":"datum.p==4 && datum.c==1"}],"mark":{"type":"line","strokeWidth":2.8},"encoding":{"x":{"field":"t","type":"quantitative","scale":{"domain":[0,25],"nice":false,"zero":false},"axis":{"values":[0,5,10,15,20],"title":"Time (years)","labelOverlap":false}},"y":{"field":"s","type":"quantitative","scale":{"domain":[-0.04,1.04],"nice":false,"zero":false},"axis":{"values":[0,0.2,0.4,0.6,0.8,1],"format":".1f","title":"Probability","labelOverlap":false}},"color":{"field":"g","type":"nominal"},"order":[{"field":"s","sort":"descending"},{"field":"t","sort":"ascending"}]}},
    {"data":{"name":"km"},"transform":[{"filter":"datum.p==4 && datum.c>0"}],"mark":{"type":"point","shape":"M-1,0H1M0,-1V1","size":25,"strokeWidth":1,"filled":false,"opacity":1},"encoding":{"x":{"field":"t","type":"quantitative","scale":{"domain":[0,25],"nice":false,"zero":false},"axis":{"values":[0,5,10,15,20],"title":"Time (years)","labelOverlap":false}},"y":{"field":"s","type":"quantitative","scale":{"domain":[-0.04,1.04],"nice":false,"zero":false},"axis":{"values":[0,0.2,0.4,0.6,0.8,1],"format":".1f","title":"Probability","labelOverlap":false}},"color":{"field":"g","type":"nominal"}}},
    {"data":{"name":"stats"},"transform":[{"filter":"datum.p==4"}],"mark":{"type":"text","align":"right","baseline":"middle","font":"Liberation Sans","fontSize":7,"color":"#222"},"encoding":{"x":{"datum":24.45,"type":"quantitative","scale":{"domain":[0,25],"nice":false,"zero":false},"axis":{"values":[0,5,10,15,20],"title":"Time (years)","labelOverlap":false}},"y":{"datum":0.978,"type":"quantitative","scale":{"domain":[-0.04,1.04],"nice":false,"zero":false},"axis":{"values":[0,0.2,0.4,0.6,0.8,1],"format":".1f","title":"Probability","labelOverlap":false}},"text":{"field":"hr","type":"nominal"}}},
    {"data":{"name":"stats"},"transform":[{"filter":"datum.p==4"}],"mark":{"type":"text","align":"right","baseline":"middle","font":"Liberation Sans","fontSize":7,"color":"#222"},"encoding":{"x":{"datum":24.45,"type":"quantitative","scale":{"domain":[0,25],"nice":false,"zero":false},"axis":{"values":[0,5,10,15,20],"title":"Time (years)","labelOverlap":false}},"y":{"datum":0.918,"type":"quantitative","scale":{"domain":[-0.04,1.04],"nice":false,"zero":false},"axis":{"values":[0,0.2,0.4,0.6,0.8,1],"format":".1f","title":"Probability","labelOverlap":false}},"text":{"field":"lr","type":"nominal"}}}
   ]},
  {"width":234,"height":17.5,"view":{"stroke":null},"data":{"name":"risk"},"transform":[{"filter":"datum.p==3"}],"title":{"text":"number at risk"},"mark":{"type":"text","font":"Liberation Sans","fontSize":7.5},"encoding":{"x":{"field":"t","type":"quantitative","scale":{"domain":[0,25],"nice":false},"axis":null},"y":{"field":"g","type":"nominal","scale":{"domain":["low","high"],"range":[8,16],"padding":0},"axis":null},"text":{"field":"n"},"color":{"condition":{"test":"datum.g=='high'","value":"#e41a1c"},"value":"#222"}}},
  {"width":169,"height":17.5,"view":{"stroke":null},"data":{"values":[{}]},"mark":{"type":"text","text":""}},
  {"width":234,"height":17.5,"view":{"stroke":null},"data":{"name":"risk"},"transform":[{"filter":"datum.p==4"}],"title":{"text":"number at risk"},"mark":{"type":"text","font":"Liberation Sans","fontSize":7.5},"encoding":{"x":{"field":"t","type":"quantitative","scale":{"domain":[0,25],"nice":false},"axis":null},"y":{"field":"g","type":"nominal","scale":{"domain":["low","high"],"range":[8,16],"padding":0},"axis":null},"text":{"field":"n"},"color":{"condition":{"test":"datum.g=='high'","value":"#e41a1c"},"value":"#222"}}},
  {"width":234,"height":173,
   "layer":[
    {"data":{"name":"km"},"transform":[{"filter":"datum.p==5"}],"mark":{"type":"line","strokeWidth":0.9},"encoding":{"x":{"field":"t","type":"quantitative","scale":{"domain":[0,25],"nice":false,"zero":false},"axis":{"values":[0,5,10,15,20],"title":"Time (years)","labelOverlap":false}},"y":{"field":"s","type":"quantitative","scale":{"domain":[-0.04,1.04],"nice":false,"zero":false},"axis":{"values":[0,0.2,0.4,0.6,0.8,1],"format":".1f","title":"Probability","labelOverlap":false}},"color":{"field":"g","type":"nominal","scale":{"domain":["low","high"],"range":["#111111","#e41a1c"]},"legend":{"title":null,"symbolType":"stroke"}},"order":[{"field":"s","sort":"descending"},{"field":"t","sort":"ascending"}]}},
    {"data":{"name":"km"},"transform":[{"filter":"datum.p==5 && datum.c==1"}],"mark":{"type":"line","strokeWidth":2.8},"encoding":{"x":{"field":"t","type":"quantitative","scale":{"domain":[0,25],"nice":false,"zero":false},"axis":{"values":[0,5,10,15,20],"title":"Time (years)","labelOverlap":false}},"y":{"field":"s","type":"quantitative","scale":{"domain":[-0.04,1.04],"nice":false,"zero":false},"axis":{"values":[0,0.2,0.4,0.6,0.8,1],"format":".1f","title":"Probability","labelOverlap":false}},"color":{"field":"g","type":"nominal"},"order":[{"field":"s","sort":"descending"},{"field":"t","sort":"ascending"}]}},
    {"data":{"name":"km"},"transform":[{"filter":"datum.p==5 && datum.c>0"}],"mark":{"type":"point","shape":"M-1,0H1M0,-1V1","size":25,"strokeWidth":1,"filled":false,"opacity":1},"encoding":{"x":{"field":"t","type":"quantitative","scale":{"domain":[0,25],"nice":false,"zero":false},"axis":{"values":[0,5,10,15,20],"title":"Time (years)","labelOverlap":false}},"y":{"field":"s","type":"quantitative","scale":{"domain":[-0.04,1.04],"nice":false,"zero":false},"axis":{"values":[0,0.2,0.4,0.6,0.8,1],"format":".1f","title":"Probability","labelOverlap":false}},"color":{"field":"g","type":"nominal"}}},
    {"data":{"name":"stats"},"transform":[{"filter":"datum.p==5"}],"mark":{"type":"text","align":"right","baseline":"middle","font":"Liberation Sans","fontSize":7,"color":"#222"},"encoding":{"x":{"datum":24.45,"type":"quantitative","scale":{"domain":[0,25],"nice":false,"zero":false},"axis":{"values":[0,5,10,15,20],"title":"Time (years)","labelOverlap":false}},"y":{"datum":0.978,"type":"quantitative","scale":{"domain":[-0.04,1.04],"nice":false,"zero":false},"axis":{"values":[0,0.2,0.4,0.6,0.8,1],"format":".1f","title":"Probability","labelOverlap":false}},"text":{"field":"hr","type":"nominal"}}},
    {"data":{"name":"stats"},"transform":[{"filter":"datum.p==5"}],"mark":{"type":"text","align":"right","baseline":"middle","font":"Liberation Sans","fontSize":7,"color":"#222"},"encoding":{"x":{"datum":24.45,"type":"quantitative","scale":{"domain":[0,25],"nice":false,"zero":false},"axis":{"values":[0,5,10,15,20],"title":"Time (years)","labelOverlap":false}},"y":{"datum":0.918,"type":"quantitative","scale":{"domain":[-0.04,1.04],"nice":false,"zero":false},"axis":{"values":[0,0.2,0.4,0.6,0.8,1],"format":".1f","title":"Probability","labelOverlap":false}},"text":{"field":"lr","type":"nominal"}}}
   ]},
  {"width":169,"height":173,"view":{"stroke":null},"data":{"values":[{"label":"Longest"}]},"mark":{"type":"text","font":"Open Sans","fontSize":18.5,"color":"#111","dx":-11,"dy":16},"encoding":{"text":{"field":"label"}}},
  {"width":234,"height":173,
   "layer":[
    {"data":{"name":"km"},"transform":[{"filter":"datum.p==6"}],"mark":{"type":"line","strokeWidth":0.9},"encoding":{"x":{"field":"t","type":"quantitative","scale":{"domain":[0,25],"nice":false,"zero":false},"axis":{"values":[0,5,10,15,20],"title":"Time (years)","labelOverlap":false}},"y":{"field":"s","type":"quantitative","scale":{"domain":[-0.04,1.04],"nice":false,"zero":false},"axis":{"values":[0,0.2,0.4,0.6,0.8,1],"format":".1f","title":"Probability","labelOverlap":false}},"color":{"field":"g","type":"nominal","scale":{"domain":["low","high"],"range":["#111111","#e41a1c"]},"legend":{"title":null,"symbolType":"stroke"}},"order":[{"field":"s","sort":"descending"},{"field":"t","sort":"ascending"}]}},
    {"data":{"name":"km"},"transform":[{"filter":"datum.p==6 && datum.c==1"}],"mark":{"type":"line","strokeWidth":2.8},"encoding":{"x":{"field":"t","type":"quantitative","scale":{"domain":[0,25],"nice":false,"zero":false},"axis":{"values":[0,5,10,15,20],"title":"Time (years)","labelOverlap":false}},"y":{"field":"s","type":"quantitative","scale":{"domain":[-0.04,1.04],"nice":false,"zero":false},"axis":{"values":[0,0.2,0.4,0.6,0.8,1],"format":".1f","title":"Probability","labelOverlap":false}},"color":{"field":"g","type":"nominal"},"order":[{"field":"s","sort":"descending"},{"field":"t","sort":"ascending"}]}},
    {"data":{"name":"km"},"transform":[{"filter":"datum.p==6 && datum.c>0"}],"mark":{"type":"point","shape":"M-1,0H1M0,-1V1","size":25,"strokeWidth":1,"filled":false,"opacity":1},"encoding":{"x":{"field":"t","type":"quantitative","scale":{"domain":[0,25],"nice":false,"zero":false},"axis":{"values":[0,5,10,15,20],"title":"Time (years)","labelOverlap":false}},"y":{"field":"s","type":"quantitative","scale":{"domain":[-0.04,1.04],"nice":false,"zero":false},"axis":{"values":[0,0.2,0.4,0.6,0.8,1],"format":".1f","title":"Probability","labelOverlap":false}},"color":{"field":"g","type":"nominal"}}},
    {"data":{"name":"stats"},"transform":[{"filter":"datum.p==6"}],"mark":{"type":"text","align":"right","baseline":"middle","font":"Liberation Sans","fontSize":7,"color":"#222"},"encoding":{"x":{"datum":24.45,"type":"quantitative","scale":{"domain":[0,25],"nice":false,"zero":false},"axis":{"values":[0,5,10,15,20],"title":"Time (years)","labelOverlap":false}},"y":{"datum":0.978,"type":"quantitative","scale":{"domain":[-0.04,1.04],"nice":false,"zero":false},"axis":{"values":[0,0.2,0.4,0.6,0.8,1],"format":".1f","title":"Probability","labelOverlap":false}},"text":{"field":"hr","type":"nominal"}}},
    {"data":{"name":"stats"},"transform":[{"filter":"datum.p==6"}],"mark":{"type":"text","align":"right","baseline":"middle","font":"Liberation Sans","fontSize":7,"color":"#222"},"encoding":{"x":{"datum":24.45,"type":"quantitative","scale":{"domain":[0,25],"nice":false,"zero":false},"axis":{"values":[0,5,10,15,20],"title":"Time (years)","labelOverlap":false}},"y":{"datum":0.918,"type":"quantitative","scale":{"domain":[-0.04,1.04],"nice":false,"zero":false},"axis":{"values":[0,0.2,0.4,0.6,0.8,1],"format":".1f","title":"Probability","labelOverlap":false}},"text":{"field":"lr","type":"nominal"}}}
   ]},
  {"width":234,"height":17.5,"view":{"stroke":null},"data":{"name":"risk"},"transform":[{"filter":"datum.p==5"}],"title":{"text":"number at risk"},"mark":{"type":"text","font":"Liberation Sans","fontSize":7.5},"encoding":{"x":{"field":"t","type":"quantitative","scale":{"domain":[0,25],"nice":false},"axis":null},"y":{"field":"g","type":"nominal","scale":{"domain":["low","high"],"range":[8,16],"padding":0},"axis":null},"text":{"field":"n"},"color":{"condition":{"test":"datum.g=='high'","value":"#e41a1c"},"value":"#222"}}},
  {"width":169,"height":17.5,"view":{"stroke":null},"data":{"values":[{}]},"mark":{"type":"text","text":""}},
  {"width":234,"height":17.5,"view":{"stroke":null},"data":{"name":"risk"},"transform":[{"filter":"datum.p==6"}],"title":{"text":"number at risk"},"mark":{"type":"text","font":"Liberation Sans","fontSize":7.5},"encoding":{"x":{"field":"t","type":"quantitative","scale":{"domain":[0,25],"nice":false},"axis":null},"y":{"field":"g","type":"nominal","scale":{"domain":["low","high"],"range":[8,16],"padding":0},"axis":null},"text":{"field":"n"},"color":{"condition":{"test":"datum.g=='high'","value":"#e41a1c"},"value":"#222"}}}
],
"config":{
 "font":"Liberation Sans",
 "view":{"stroke":"#505050","strokeWidth":1},
 "axis":{"labelFont":"Liberation Sans","titleFont":"Liberation Sans","labelFontSize":6.5,"titleFontSize":7.3,"titleFontWeight":"normal","labelColor":"#222","titleColor":"#222","tickColor":"#505050","tickSize":3,"domain":false,"grid":false,"labelFlush":false,"labelOverlap":false,"labelPadding":5.5},
 "axisX":{"titlePadding":10},
 "axisY":{"labelAngle":-90,"labelAlign":"center","labelBaseline":"bottom","titlePadding":11},
 "legend":{"orient":"bottom-left","offset":5,"padding":0,"symbolSize":169,"symbolStrokeWidth":1,"labelFont":"Liberation Sans","labelFontSize":7,"labelColor":"#222","labelOffset":6,"rowPadding":-5},
 "title":{"font":"Liberation Sans","fontSize":7.3,"fontWeight":"normal","color":"#222","offset":-2,"baseline":"bottom"}
}
}
